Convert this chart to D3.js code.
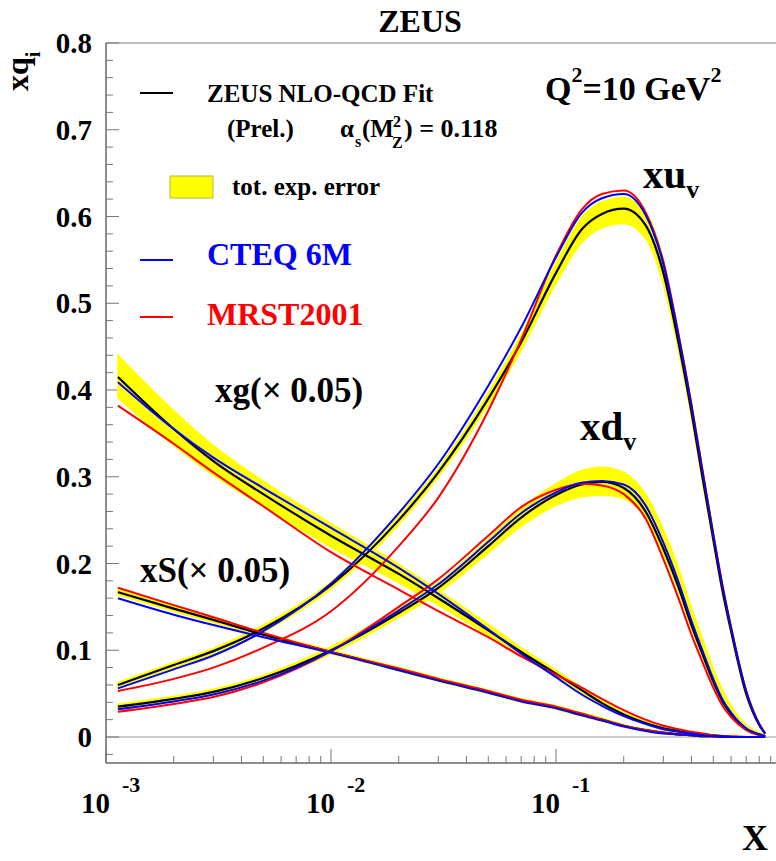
<!DOCTYPE html>
<html>
<head>
<meta charset="utf-8">
<script src="https://cdn.jsdelivr.net/npm/d3@7"></script>
<style>
  body { margin: 0; background: #fff; }
  text { font-family: "Liberation Serif", "Times New Roman", serif; font-weight: bold; }
</style>
</head>
<body>
<div id="chart"></div>
<script>
// x grid shared by every curve
const xs = [0.00113, 0.002, 0.003, 0.005, 0.01, 0.02, 0.03, 0.05, 0.07, 0.1, 0.13, 0.16,
            0.2, 0.25, 0.3, 0.35, 0.4, 0.45, 0.5, 0.55, 0.6, 0.7, 0.8, 0.85];

// xu_v
const xuv_zeus = [0.060, 0.083, 0.099, 0.125, 0.175, 0.250, 0.305, 0.390, 0.455, 0.535, 0.585, 0.603,
                  0.609, 0.590, 0.535, 0.455, 0.375, 0.296, 0.228, 0.168, 0.122, 0.050, 0.014, 0.004];
const xuv_lo   = [0.057, 0.080, 0.096, 0.121, 0.171, 0.245, 0.300, 0.383, 0.446, 0.523, 0.570, 0.587,
                  0.592, 0.575, 0.522, 0.446, 0.368, 0.290, 0.223, 0.164, 0.119, 0.048, 0.013, 0.003];
const xuv_hi   = [0.063, 0.086, 0.102, 0.129, 0.179, 0.255, 0.310, 0.397, 0.464, 0.547, 0.599, 0.617,
                  0.622, 0.605, 0.550, 0.468, 0.388, 0.308, 0.238, 0.177, 0.129, 0.055, 0.016, 0.005];
const xuv_cteq = [0.056, 0.078, 0.094, 0.122, 0.177, 0.258, 0.315, 0.405, 0.472, 0.553, 0.604, 0.621,
                  0.626, 0.602, 0.545, 0.463, 0.382, 0.303, 0.233, 0.173, 0.126, 0.053, 0.015, 0.004];
const xuv_mrst = [0.053, 0.067, 0.080, 0.103, 0.145, 0.220, 0.276, 0.376, 0.458, 0.555, 0.608, 0.626,
                  0.630, 0.605, 0.548, 0.465, 0.383, 0.304, 0.234, 0.174, 0.126, 0.053, 0.015, 0.004];

// xd_v
const xdv_zeus = [0.035, 0.044, 0.052, 0.068, 0.100, 0.143, 0.172, 0.220, 0.253, 0.279, 0.291, 0.294,
                  0.287, 0.260, 0.217, 0.173, 0.129, 0.094, 0.064, 0.041, 0.026, 0.009, 0.003, 0.001];
const xdv_lo   = [0.032, 0.041, 0.049, 0.065, 0.096, 0.138, 0.166, 0.212, 0.243, 0.267, 0.277, 0.279,
                  0.275, 0.252, 0.211, 0.168, 0.125, 0.091, 0.061, 0.039, 0.024, 0.008, 0.002, 0.000];
const xdv_hi   = [0.038, 0.047, 0.055, 0.071, 0.104, 0.148, 0.178, 0.228, 0.263, 0.292, 0.307, 0.311,
                  0.305, 0.280, 0.239, 0.195, 0.149, 0.112, 0.079, 0.054, 0.036, 0.014, 0.005, 0.002];
const xdv_cteq = [0.032, 0.041, 0.049, 0.065, 0.099, 0.146, 0.176, 0.225, 0.258, 0.282, 0.293, 0.295,
                  0.291, 0.267, 0.224, 0.179, 0.134, 0.098, 0.067, 0.043, 0.028, 0.010, 0.003, 0.001];
const xdv_mrst = [0.029, 0.038, 0.046, 0.063, 0.099, 0.150, 0.182, 0.232, 0.265, 0.285, 0.292, 0.290,
                  0.280, 0.252, 0.205, 0.160, 0.118, 0.085, 0.057, 0.036, 0.023, 0.008, 0.002, 0.001];

// xg (x 0.05)
const xg_zeus = [0.415, 0.355, 0.318, 0.280, 0.232, 0.188, 0.160, 0.123, 0.098, 0.073, 0.054, 0.039,
                 0.026, 0.016, 0.010, 0.007, 0.004, 0.003, 0.002, 0.001, 0.000, 0.000, 0.000, 0.000];
const xg_lo   = [0.391, 0.336, 0.302, 0.266, 0.219, 0.178, 0.152, 0.117, 0.094, 0.070, 0.051, 0.037,
                 0.024, 0.015, 0.009, 0.006, 0.003, 0.002, 0.001, 0.000, 0.000, 0.000, 0.000, 0.000];
const xg_hi   = [0.440, 0.376, 0.336, 0.295, 0.246, 0.199, 0.169, 0.130, 0.103, 0.077, 0.057, 0.042,
                 0.028, 0.018, 0.012, 0.008, 0.005, 0.004, 0.003, 0.002, 0.001, 0.000, 0.000, 0.000];
const xg_cteq = [0.409, 0.355, 0.322, 0.287, 0.241, 0.195, 0.165, 0.124, 0.096, 0.069, 0.049, 0.036,
                 0.024, 0.015, 0.009, 0.006, 0.004, 0.002, 0.001, 0.001, 0.000, 0.000, 0.000, 0.000];
const xg_mrst = [0.382, 0.338, 0.305, 0.266, 0.213, 0.170, 0.145, 0.115, 0.093, 0.072, 0.057, 0.044,
                 0.031, 0.020, 0.013, 0.009, 0.006, 0.004, 0.002, 0.001, 0.001, 0.000, 0.000, 0.000];

// xS (x 0.05)
const xs_zeus = [0.167, 0.148, 0.135, 0.118, 0.098, 0.078, 0.066, 0.052, 0.042, 0.034, 0.026, 0.020,
                 0.013, 0.008, 0.005, 0.003, 0.002, 0.001, 0.001, 0.000, 0.000, 0.000, 0.000, 0.000];
const xs_lo   = [0.164, 0.145, 0.132, 0.116, 0.096, 0.076, 0.064, 0.050, 0.040, 0.032, 0.024, 0.018,
                 0.012, 0.007, 0.004, 0.002, 0.001, 0.000, 0.000, 0.000, 0.000, 0.000, 0.000, 0.000];
const xs_hi   = [0.170, 0.151, 0.138, 0.120, 0.100, 0.080, 0.068, 0.054, 0.044, 0.036, 0.028, 0.022,
                 0.014, 0.009, 0.006, 0.004, 0.003, 0.002, 0.001, 0.001, 0.000, 0.000, 0.000, 0.000];
const xs_cteq = [0.160, 0.141, 0.129, 0.115, 0.097, 0.077, 0.065, 0.051, 0.041, 0.033, 0.025, 0.019,
                 0.012, 0.007, 0.004, 0.003, 0.002, 0.001, 0.001, 0.000, 0.000, 0.000, 0.000, 0.000];
const xs_mrst = [0.172, 0.152, 0.138, 0.120, 0.098, 0.079, 0.067, 0.053, 0.043, 0.035, 0.027, 0.020,
                 0.013, 0.008, 0.005, 0.003, 0.002, 0.001, 0.001, 0.000, 0.000, 0.000, 0.000, 0.000];

const yTicks = [0, 0.1, 0.2, 0.3, 0.4, 0.5, 0.6, 0.7, 0.8];
const xTickExps = [-3, -2, -1];

const width = 776, height = 861;
const svg = d3.select('#chart').append('svg')
    .attr('width', width).attr('height', height)
    .style('background', '#fff');

const x = d3.scaleLog().domain([1e-3, 1]).range([106, 781]);
const y = d3.scaleLinear().domain([0, 0.8]).range([737, 43]);
const yBottom = y(-0.03);
const xLeft = x(1e-3), xRight = x(1);

// frame
svg.append('line').attr('x1', xLeft).attr('x2', xRight).attr('y1', y(0.8)).attr('y2', y(0.8))
    .attr('stroke', '#aaa').attr('stroke-width', 1.5);
svg.append('line').attr('x1', xLeft).attr('x2', xRight).attr('y1', y(0)).attr('y2', y(0))
    .attr('stroke', '#bbb').attr('stroke-width', 1.5);
svg.append('line').attr('x1', xLeft).attr('x2', xRight).attr('y1', yBottom).attr('y2', yBottom)
    .attr('stroke', '#666').attr('stroke-width', 1.5);
svg.append('line').attr('x1', xLeft).attr('x2', xLeft).attr('y1', y(0.8)).attr('y2', yBottom)
    .attr('stroke', '#666').attr('stroke-width', 1.5);

// y ticks (minor every 0.02)
const yMinor = d3.range(-0.02, 0.801, 0.02);
svg.append('g').selectAll('line').data(yMinor).join('line')
    .attr('x1', xLeft).attr('y1', d => y(d)).attr('y2', d => y(d))
    .attr('x2', d => Math.abs(Math.round(d * 100) % 10) === 0 ? xLeft + 13 : xLeft + 7)
    .attr('stroke', '#777').attr('stroke-width', 1);
svg.append('g').selectAll('text').data(yTicks).join('text')
    .attr('x', 92).attr('y', d => y(d)).attr('dy', '0.35em')
    .attr('text-anchor', 'end').attr('font-size', 29)
    .text(d => d === 0 ? '0' : d3.format('.1f')(d));

// x ticks (log)
const xMinor = [];
[-3, -2, -1].forEach(e => { for (let m = 1; m < 10; m++) xMinor.push(m * Math.pow(10, e)); });
svg.append('g').selectAll('line').data(xMinor.filter(d => x(d) < width)).join('line')
    .attr('x1', d => x(d)).attr('x2', d => x(d)).attr('y1', yBottom)
    .attr('y2', d => Math.abs(Math.log10(d) - Math.round(Math.log10(d))) < 1e-9 ? yBottom - 14 : yBottom - 7)
    .attr('stroke', '#777').attr('stroke-width', 1);
const xl = svg.append('g').selectAll('g').data(xTickExps).join('g');
xl.append('text').attr('x', e => x(Math.pow(10, e)) + 4).attr('y', 813)
    .attr('text-anchor', 'end').attr('font-size', 29).text('10');
xl.append('text').attr('x', e => x(Math.pow(10, e)) + 16).attr('y', 792)
    .attr('font-size', 22).text(e => '-' + Math.abs(e));

// curves
const line = vals => d3.line().x((d, i) => x(xs[i])).y(d => y(d)).curve(d3.curveMonotoneX)(vals);
const band = (lo, hi) => d3.area().x((d, i) => x(xs[i])).y0(d => y(d)).y1((d, i) => y(hi[i]))
    .curve(d3.curveMonotoneX)(lo);

const pdfs = [
  { zeus: xuv_zeus, lo: xuv_lo, hi: xuv_hi, cteq: xuv_cteq, mrst: xuv_mrst },
  { zeus: xdv_zeus, lo: xdv_lo, hi: xdv_hi, cteq: xdv_cteq, mrst: xdv_mrst },
  { zeus: xg_zeus,  lo: xg_lo,  hi: xg_hi,  cteq: xg_cteq,  mrst: xg_mrst },
  { zeus: xs_zeus,  lo: xs_lo,  hi: xs_hi,  cteq: xs_cteq,  mrst: xs_mrst },
];
const curves = svg.append('g');
pdfs.forEach(p => {
  curves.append('path').attr('d', band(p.lo, p.hi)).attr('fill', '#ffff00').attr('stroke', '#ffff00').attr('stroke-width', 1.5);
});
pdfs.forEach(p => {
  curves.append('path').attr('d', line(p.zeus)).attr('fill', 'none').attr('stroke', '#000').attr('stroke-width', 2.2);
});
pdfs.forEach(p => {
  curves.append('path').attr('d', line(p.mrst)).attr('fill', 'none').attr('stroke', '#ff0000').attr('stroke-width', 2);
});
pdfs.forEach(p => {
  curves.append('path').attr('d', line(p.cteq)).attr('fill', 'none').attr('stroke', '#0000ff').attr('stroke-width', 2);
});

// titles
svg.append('text').attr('x', 420).attr('y', 32).attr('text-anchor', 'middle').attr('font-size', 32).text('ZEUS');
const yt = svg.append('text').attr('transform', 'translate(28,91) rotate(-90)').attr('font-size', 32);
yt.append('tspan').text('xq');
yt.append('tspan').attr('dy', 12).attr('font-size', 20).text('i');
svg.append('text').attr('x', 742).attr('y', 850).attr('font-size', 36).text('X');

// legend
svg.append('line').attr('x1', 140).attr('x2', 173).attr('y1', 93).attr('y2', 93).attr('stroke', '#000').attr('stroke-width', 2);
svg.append('text').attr('x', 207).attr('y', 102).attr('font-size', 25).text('ZEUS NLO-QCD Fit');
svg.append('text').attr('x', 227).attr('y', 137).attr('font-size', 25).text('(Prel.)');
svg.append('text').attr('x', 340).attr('y', 137).attr('font-size', 25).text('α');
svg.append('text').attr('x', 355).attr('y', 147).attr('font-size', 16).text('s');
svg.append('text').attr('x', 362).attr('y', 137).attr('font-size', 25).text('(M');
svg.append('text').attr('x', 393).attr('y', 127).attr('font-size', 16).text('2');
svg.append('text').attr('x', 392).attr('y', 148).attr('font-size', 16).text('Z');
svg.append('text').attr('x', 404).attr('y', 137).attr('font-size', 26).text(') = 0.118');

svg.append('rect').attr('x', 170).attr('y', 176).attr('width', 43).attr('height', 22)
    .attr('fill', '#ffff00').attr('stroke', '#b8b840').attr('stroke-width', 1);
svg.append('text').attr('x', 232).attr('y', 195).attr('font-size', 25).text('tot. exp. error');

svg.append('line').attr('x1', 140).attr('x2', 173).attr('y1', 260).attr('y2', 260).attr('stroke', '#0000ff').attr('stroke-width', 2);
svg.append('text').attr('x', 207).attr('y', 265).attr('font-size', 32).attr('fill', '#0000ff').text('CTEQ 6M');
svg.append('line').attr('x1', 140).attr('x2', 173).attr('y1', 317).attr('y2', 317).attr('stroke', '#ff0000').attr('stroke-width', 2);
svg.append('text').attr('x', 207).attr('y', 325).attr('font-size', 32).attr('fill', '#ff0000').text('MRST2001');

const q = svg.append('text').attr('x', 545).attr('y', 100).attr('font-size', 34);
q.append('tspan').text('Q');
q.append('tspan').attr('dy', -18).attr('font-size', 22).text('2');
q.append('tspan').attr('dy', 18).text('=10 GeV');
q.append('tspan').attr('dy', -18).attr('font-size', 22).text('2');

// curve labels
const lu = svg.append('text').attr('x', 643).attr('y', 188).attr('font-size', 41);
lu.append('tspan').text('xu');
lu.append('tspan').attr('dy', 10).attr('font-size', 26).text('v');
const ld = svg.append('text').attr('x', 580).attr('y', 440).attr('font-size', 41);
ld.append('tspan').text('xd');
ld.append('tspan').attr('dy', 10).attr('font-size', 26).text('v');
svg.append('text').attr('x', 215).attr('y', 402).attr('font-size', 35).text('xg(× 0.05)');
svg.append('text').attr('x', 140).attr('y', 582).attr('font-size', 35).text('xS(× 0.05)');
</script>
</body>
</html>
